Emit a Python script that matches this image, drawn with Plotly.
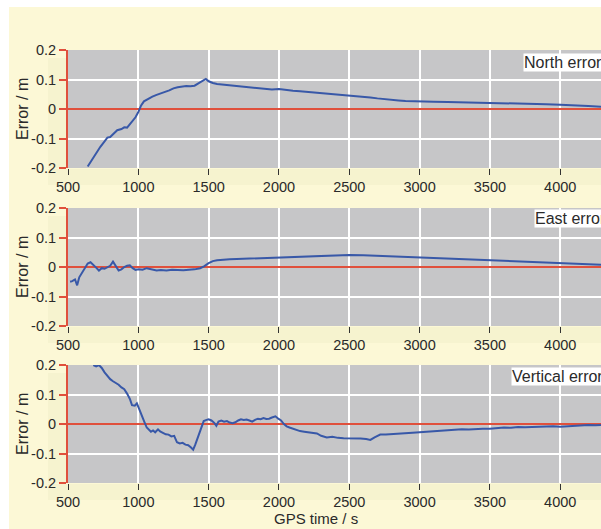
import plotly.graph_objects as go

W, H = 601, 529
ML, MT, MB = 68, 20, 20
HP = H - MT - MB

CREAM = "#fcf8d6"
BAND = "#f6f3cf"
PLOTBG = "#c6c6c8"
BLUE = "#3858a8"
RED = "#e0503c"
TXT = "#2a2a2a"
FONT = "Liberation Sans, Arial, sans-serif"

# ---------------- data ----------------
x_tickvals = [500, 1000, 1500, 2000, 2500, 3000, 3500, 4000]
x_ticktext = ["500", "1000", "1500", "2000", "2500", "3000", "3500", "4000"]
y_tickvals = [-0.2, -0.1, 0, 0.1, 0.2]
y_ticktext = ["-0.2", "-0.1", "0", "0.1", "0.2"]
panel_labels = ["North error", "East error", "Vertical error"]

north_t = [640, 660, 690, 710, 730, 760, 780, 800, 830, 850, 880, 900, 920, 950, 980,
           1000, 1020, 1040, 1070, 1100, 1130, 1160, 1190, 1220, 1250, 1280, 1310, 1340,
           1370, 1400, 1430, 1460, 1480, 1500, 1530, 1560, 1600, 1650, 1700, 1750, 1800,
           1850, 1900, 1950, 2000, 2050, 2100, 2150, 2200, 2250, 2300, 2350, 2400, 2450,
           2500, 2550, 2600, 2650, 2700, 2750, 2800, 2850, 2900, 2950, 3000, 3100, 3200,
           3300, 3400, 3500, 3600, 3700, 3800, 3900, 4000, 4100, 4200, 4290]
north_v = [-0.195, -0.18, -0.157, -0.14, -0.128, -0.11, -0.097, -0.095, -0.08, -0.072,
           -0.068, -0.062, -0.063, -0.045, -0.028, -0.01, 0.012, 0.026, 0.035, 0.042,
           0.048, 0.052, 0.058, 0.063, 0.07, 0.074, 0.076, 0.078, 0.077, 0.079, 0.088,
           0.098, 0.102, 0.094, 0.088, 0.085, 0.083, 0.08, 0.078, 0.075, 0.072, 0.07,
           0.067, 0.066, 0.068, 0.064, 0.062, 0.06, 0.058, 0.057, 0.054, 0.052, 0.05,
           0.048, 0.046, 0.044, 0.042, 0.039, 0.036, 0.033, 0.031, 0.029, 0.027, 0.027,
           0.026, 0.025, 0.024, 0.023, 0.022, 0.021, 0.02, 0.02, 0.018, 0.016, 0.014,
           0.013, 0.01, 0.008]

east_t = [515, 530, 550, 565, 580, 600, 620, 640, 660, 680, 700, 720, 740, 760, 780, 800,
          820, 840, 860, 880, 900, 920, 940, 960, 980, 1000, 1030, 1060, 1080, 1100, 1130,
          1160, 1200, 1240, 1280, 1320, 1360, 1400, 1440, 1470, 1500, 1530, 1560, 1600,
          1650, 1700, 1750, 1800, 1900, 2000, 2100, 2200, 2300, 2400, 2500, 2600, 2700,
          2800, 2900, 3000, 3100, 3200, 3300, 3400, 3500, 3600, 3700, 3800, 3900, 4000,
          4100, 4200, 4290]
east_v = [-0.05, -0.048, -0.042, -0.062, -0.035, -0.02, -0.005, 0.012, 0.016, 0.008,
          -0.002, -0.012, -0.004, -0.006, -0.001, 0.004, 0.018, 0.005, -0.012, -0.008,
          0.0, 0.004, 0.006, -0.004, -0.01, -0.008, -0.009, -0.004, -0.006, -0.01, -0.012,
          -0.01, -0.012, -0.009, -0.01, -0.011, -0.009, -0.008, -0.004, 0.003, 0.013,
          0.02, 0.023, 0.025, 0.026, 0.027, 0.028, 0.029, 0.031, 0.033, 0.034, 0.035,
          0.037, 0.039, 0.041, 0.04, 0.038, 0.036, 0.034, 0.032, 0.03, 0.029, 0.027,
          0.025, 0.024, 0.022, 0.02, 0.018, 0.016, 0.014, 0.012, 0.01, 0.008]

vert_t = [680, 700, 720, 740, 760, 780, 800, 820, 840, 860, 880, 900, 920, 940, 955, 975,
          990, 1005, 1015, 1030, 1045, 1060, 1075, 1090, 1105, 1120, 1140, 1155, 1175,
          1195, 1215, 1235, 1255, 1275, 1295, 1315, 1335, 1355, 1375, 1390, 1405, 1420,
          1435, 1450, 1465, 1485, 1500, 1520, 1540, 1555, 1570, 1590, 1610, 1630, 1650,
          1670, 1690, 1710, 1730, 1750, 1770, 1790, 1810, 1830, 1850, 1870, 1890, 1910,
          1930, 1950, 1975, 1995, 2015, 2035, 2055, 2075, 2100, 2125, 2150, 2180, 2210,
          2240, 2270, 2300, 2340, 2380, 2420, 2460, 2500, 2540, 2580, 2620, 2650, 2680,
          2720, 2760, 2800, 2850, 2900, 2950, 3000, 3050, 3100, 3150, 3200, 3250, 3300,
          3350, 3400, 3450, 3500, 3550, 3600, 3650, 3700, 3750, 3800, 3850, 3900, 3950,
          4000, 4050, 4100, 4150, 4200, 4250, 4290]
vert_v = [0.2, 0.195, 0.2, 0.19, 0.175, 0.163, 0.152, 0.145, 0.14, 0.133, 0.124, 0.118,
          0.103, 0.085, 0.064, 0.062, 0.07, 0.052, 0.035, 0.02, 0.005, -0.012, -0.02,
          -0.026, -0.022, -0.028, -0.018, -0.025, -0.03, -0.035, -0.036, -0.042, -0.04,
          -0.062, -0.066, -0.064, -0.07, -0.072, -0.08, -0.087, -0.07, -0.05, -0.025,
          -0.005, 0.01, 0.014, 0.016, 0.012, 0.004, -0.006, 0.008, 0.012, 0.008, 0.01,
          0.005, 0.003, 0.006, 0.012, 0.016, 0.014, 0.015, 0.012, 0.008, 0.014, 0.018,
          0.016, 0.02, 0.017, 0.018, 0.022, 0.026, 0.018, 0.012, 0.0, -0.008, -0.012,
          -0.016, -0.018, -0.024, -0.026, -0.028, -0.03, -0.032, -0.04, -0.046, -0.043,
          -0.047, -0.048, -0.048, -0.05, -0.049, -0.051, -0.054, -0.045, -0.036, -0.036,
          -0.035, -0.034, -0.033, -0.03, -0.028, -0.026, -0.024, -0.022, -0.021, -0.019,
          -0.018, -0.019, -0.017, -0.016, -0.016, -0.014, -0.012, -0.013, -0.01, -0.011,
          -0.01, -0.009, -0.01, -0.008, -0.009, -0.007, -0.005, -0.004, -0.003, -0.004,
          -0.003]

series = [(north_t, north_v), (east_t, east_v), (vert_t, vert_v)]

# ---------------- layout helpers (page pixels -> paper fractions) ----------------
def fx(p):
    return (p - ML) / (W - ML)

def fy(p):
    return 1 - (p - MT) / HP

panels = [(50, 168), (208, 326), (365, 483)]
label_pos = [(523, 53), (534, 209), (511, 367)]

fig = go.Figure()
layout = dict(
    width=W, height=H,
    margin=dict(l=ML, r=0, t=MT, b=MB, autoexpand=False),
    paper_bgcolor=CREAM,
    plot_bgcolor=PLOTBG,
    showlegend=False,
    font=dict(family=FONT, size=14.5, color=TXT),
)

shapes = [
    dict(type="rect", xref="paper", yref="paper", x0=fx(0), x1=fx(9), y0=fy(H), y1=fy(0),
         fillcolor="white", line=dict(width=0), layer="above"),
    dict(type="rect", xref="paper", yref="paper", x0=fx(0), x1=fx(W), y0=fy(7), y1=fy(0),
         fillcolor="white", line=dict(width=0), layer="above"),
]
annotations = []

for i, ((t, v), (T, B)) in enumerate(zip(series, panels)):
    n = "" if i == 0 else str(i + 1)
    fig.add_trace(go.Scatter(x=t, y=v, xaxis="x" + n, yaxis="y" + n, mode="lines",
                             line=dict(color=BLUE, width=2), hoverinfo="skip"))
    layout["xaxis" + n] = dict(
        domain=[0, 1], anchor="y" + n, range=[500, 4290],
        tickmode="array", tickvals=x_tickvals, ticktext=x_ticktext,
        ticks="outside", ticklen=6, tickwidth=1.2, tickcolor="#333",
        showgrid=True, gridcolor="white", gridwidth=1.5,
        showline=False, zeroline=False, fixedrange=True, automargin=False,
        tickfont=dict(family=FONT, size=14.5, color=TXT),
    )
    layout["yaxis" + n] = dict(
        domain=[fy(B), fy(T)], anchor="x" + n, range=[-0.2, 0.2],
        tickmode="array", tickvals=y_tickvals, ticktext=y_ticktext,
        ticks="outside", ticklen=7, tickwidth=2, tickcolor=RED,
        showline=True, linecolor=RED, linewidth=2,
        showgrid=True, gridcolor="white", gridwidth=1.5,
        zeroline=True, zerolinecolor=RED, zerolinewidth=2, fixedrange=True,
        automargin=False,
        tickfont=dict(family=FONT, size=14.5, color=TXT),
    )
    # subtle lighter frame behind the tick labels
    shapes.append(dict(type="rect", xref="paper", yref="paper", x0=fx(48), x1=fx(66),
                       y0=fy(B), y1=fy(T + 8), fillcolor=BAND, line=dict(width=0),
                       layer="below"))
    shapes.append(dict(type="rect", xref="paper", yref="paper", x0=fx(48), x1=fx(W),
                       y0=fy(B + 17), y1=fy(B + 1), fillcolor=BAND, line=dict(width=0),
                       layer="below"))
    # y-axis title
    annotations.append(dict(text="Error / m", xref="paper", yref="paper",
                            x=fx(22), y=fy((T + B) / 2), xanchor="center", yanchor="middle",
                            textangle=-90, showarrow=False,
                            font=dict(family=FONT, size=16, color=TXT)))
    # panel label (runs off the right edge, as in the original)
    lx, ly = label_pos[i]
    annotations.append(dict(text=panel_labels[i], xref="paper", yref="paper",
                            x=fx(lx), y=fy(ly), xanchor="left", yanchor="top",
                            showarrow=False, bgcolor="white", borderpad=0,
                            font=dict(family=FONT, size=16, color=TXT)))

annotations.append(dict(text="GPS time / s", xref="paper", yref="paper",
                        x=fx(316), y=fy(518), xanchor="center", yanchor="middle",
                        showarrow=False, font=dict(family=FONT, size=15, color=TXT)))

layout["shapes"] = shapes
layout["annotations"] = annotations
fig.update_layout(**layout)

fig.write_html("out.html", config={"displayModeBar": False},
               post_script="document.body.style.margin='0';document.body.style.overflow='hidden';")
